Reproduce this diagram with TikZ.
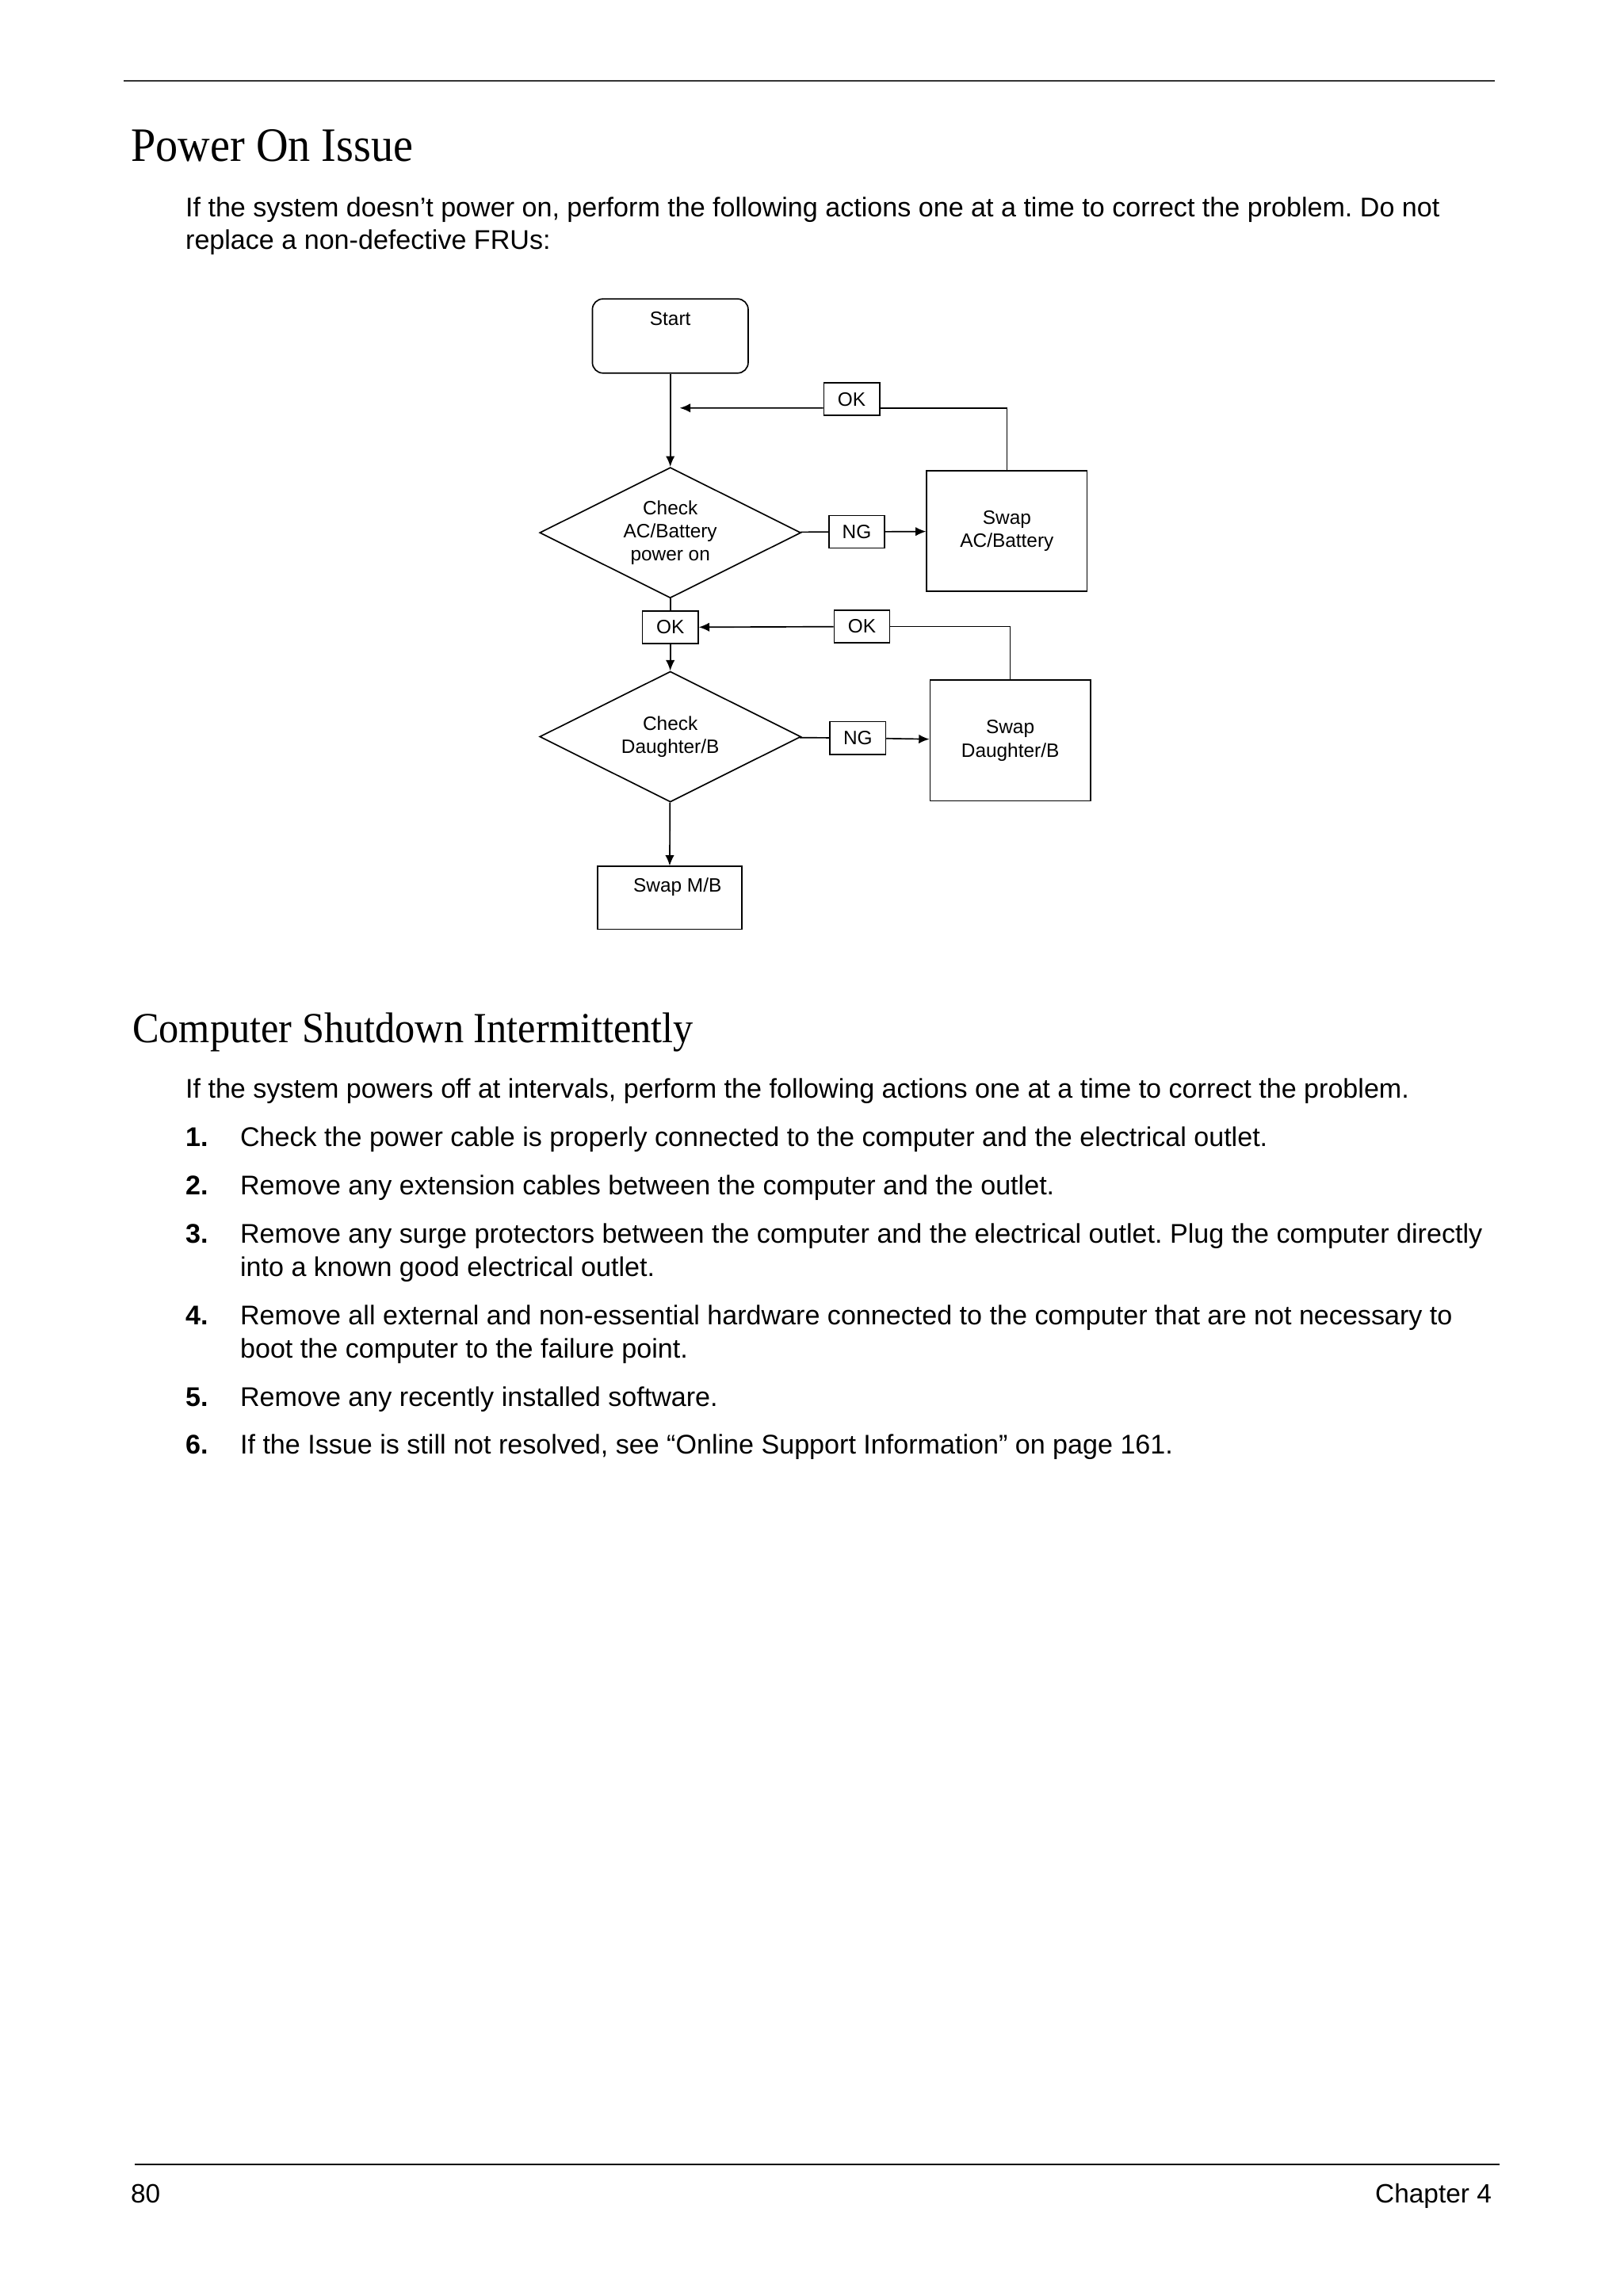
\documentclass[tikz,border=0pt]{standalone}
\usepackage{fontspec}
\setmainfont{Liberation Serif}
\setsansfont{Liberation Sans}
\newfontfamily\headfont[FakeStretch=0.93]{Liberation Serif}
\usetikzlibrary{shapes.geometric,positioning,arrows.meta}
\frenchspacing

\begin{document}
\begin{tikzpicture}[x=0.55pt,y=-0.55pt,
  txt/.style={anchor=base west,inner sep=0pt,font=\sffamily\fontsize{10.2}{12}\selectfont},
  num/.style={txt,font=\sffamily\bfseries\fontsize{10.2}{12}\selectfont},
  head/.style={anchor=base west,inner sep=0pt},
  fc/.style={draw,line width=0.5pt,inner sep=0pt,align=center,font=\sffamily\fontsize{7.3}{8.8}\selectfont},
  intext/.style={inner sep=0pt,anchor=north,font=\sffamily\fontsize{7.3}{8.8}\selectfont},
  decision/.style={fc,diamond,aspect=2,minimum width=98.6pt,minimum height=49.3pt},
  process/.style={fc,rectangle,minimum width=60.5pt,minimum height=45.5pt},
  tag/.style={fc,rectangle,minimum width=21pt,minimum height=12.3pt},
  link/.style={line width=0.5pt},
  flow/.style={link,-{Latex[length=4pt,width=3.4pt]}}]
\useasboundingbox (0,0) rectangle (1114,1560);

% page rules
\coordinate (rt1) at (85,55.7);  \coordinate (rt2) at (1026,55.7);
\coordinate (rb1) at (92.5,1485.4); \coordinate (rb2) at (1029,1485.4);
\draw[line width=0.65pt,black!80] (rt1) -- (rt2);
\draw[line width=0.75pt] (rb1) -- (rb2);

% section 1
\node[head,font=\headfont\fontsize{18.1}{20}\selectfont] (h1) at (89.5,110.6) {Power On Issue};
\node[txt] (p1a) at (127,148.6) {If the system doesn’t power on, perform the following actions one at a time to correct the problem. Do not};
\node[txt] (p1b) at (127,171.3) {replace a non-defective FRUs:};

% flowchart
\node[fc,rectangle,rounded corners=4pt,minimum width=58.8pt,minimum height=28pt,
      label={[intext,yshift=-5pt]north:Start}] (start) at (460,230.6) {};
\node[decision] (chkac) at (460,365.6) {Check\\AC/Battery\\power on};
\node[tag] (ngac) at (588,365) {NG};
\node[process] (swapac) at (691,364.5) {Swap\\AC/Battery};
\node[tag] (okac) at (584.5,274) {OK};
\coordinate (okacin) at (466.5,280);
\node[tag] (okmid) at (460,430.5) {OK};
\node[tag] (okdb) at (591.5,430) {OK};
\node[decision] (chkdb) at (460,505.6) {Check\\Daughter/B};
\node[tag] (ngdb) at (588.7,506.5) {NG};
\node[process] (swapdb) at (693.3,508.2) {Swap\\Daughter/B};
\node[fc,rectangle,minimum width=54.5pt,minimum height=23.7pt,
      label={[intext,xshift=3pt,yshift=-4.3pt]north:Swap M/B}] (swapmb) at (459.5,616.2) {};

\draw[flow] (start) -- (chkac);
\draw[link] (chkac) -- (ngac);
\draw[flow] (ngac) -- (swapac);
\draw[link] (swapac.north) |- ([yshift=-3.3pt]okac.east);
\draw[flow] ([yshift=-3.3pt]okac.west) -- (okacin);
\draw[link] (chkac) -- (okmid);
\draw[flow] (okmid) -- (chkdb);
\draw[link] (chkdb) -- (ngdb);
\draw[flow] (ngdb) -- (swapdb);
\draw[link] (swapdb.north) |- (okdb.east);
\draw[flow] (okdb) -- (okmid);
\draw[flow] (chkdb) -- (swapmb);

% section 2
\node[head,font=\headfont\fontsize{16.2}{18}\selectfont] (h2) at (90.5,715.6) {Computer Shutdown Intermittently};
\node[txt] (p2) at (127,753.4) {If the system powers off at intervals, perform the following actions one at a time to correct the problem.};
\foreach \n/\y/\t in {1/787/{Check the power cable is properly connected to the computer and the electrical outlet.},
    2/820/{Remove any extension cables between the computer and the outlet.},
    3/853/{Remove any surge protectors between the computer and the electrical outlet. Plug the computer directly},
    4/909/{Remove all external and non-essential hardware connected to the computer that are not necessary to},
    5/965/{Remove any recently installed software.},
    6/998/{If the Issue is still not resolved, see “Online Support Information” on page 161.}}{
  \node[num] (n\n) at (127,\y) {\n.};
  \node[txt] (i\n) at (164.5,\y) {\t};
}
\node[txt] (i3b) at (164.5,876) {into a known good electrical outlet.};
\node[txt] (i4b) at (164.5,932) {boot the computer to the failure point.};

% footer
\node[txt,font=\sffamily\fontsize{10}{12}\selectfont] (pg) at (89.4,1511.6) {80};
\node[txt,anchor=base east,font=\sffamily\fontsize{10}{12}\selectfont] (chap) at (1024,1511.6) {Chapter 4};
\end{tikzpicture}
\end{document}
